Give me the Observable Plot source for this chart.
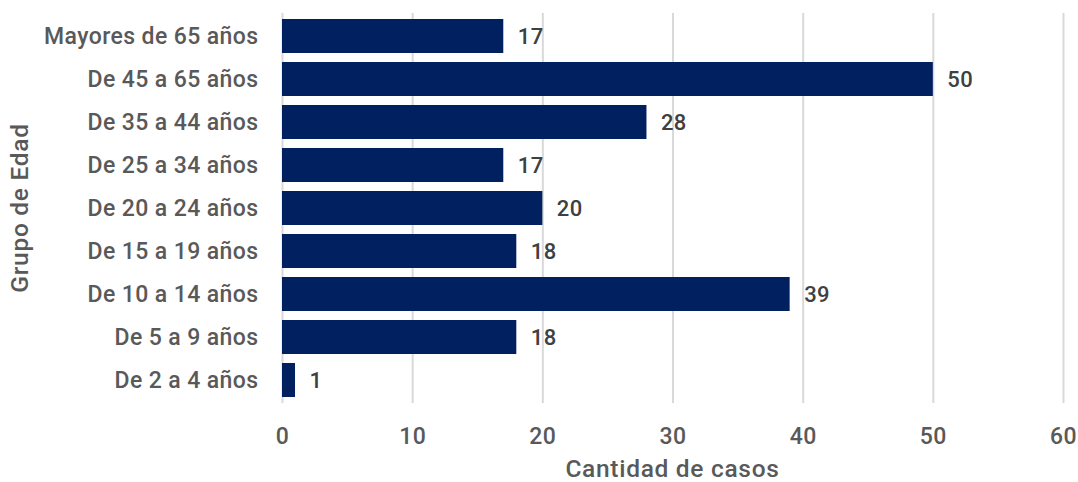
<!DOCTYPE html>
<html>
<head>
<meta charset="utf-8">
<script src="https://cdn.jsdelivr.net/npm/d3@7"></script>
<script src="https://cdn.jsdelivr.net/npm/@observablehq/plot@0.6"></script>
<style>
  html, body { margin: 0; padding: 0; background: #fff; }
  #chart svg { display: block; }
</style>
</head>
<body>
<div id="chart"></div>
<script>
const categories = [
  "Mayores de 65 años",
  "De 45 a 65 años",
  "De 35 a 44 años",
  "De 25 a 34 años",
  "De 20 a 24 años",
  "De 15 a 19 años",
  "De 10 a 14 años",
  "De 5 a 9 años",
  "De 2 a 4 años"
];
const values = [17, 50, 28, 17, 20, 18, 39, 18, 1];
const xTicks = [0, 10, 20, 30, 40, 50, 60];

const data = categories.map((c, i) => ({ group: c, value: values[i] }));
const FONT = "Roboto, 'DejaVu Sans Condensed', sans-serif";

const plot = Plot.plot({
  width: 1078,
  height: 482,
  marginLeft: 282,
  marginRight: 15,
  marginTop: 13,
  marginBottom: 79,
  style: { fontFamily: FONT, background: "#fff", letterSpacing: "0.4px" },
  x: { domain: [0, 60], ticks: xTicks, label: null },
  y: { domain: categories, paddingInner: 0.2, paddingOuter: 0.1, label: null },
  marks: [
    Plot.gridX(xTicks, { stroke: "#d9d9d9", strokeOpacity: 1, strokeWidth: 2 }),
    Plot.barX(data, { x: "value", y: "group", fill: "#002060" }),
    Plot.text(data, {
      x: "value", y: "group", text: d => String(d.value),
      dx: 14, textAnchor: "start", fill: "#404040",
      fontSize: 22, fontWeight: 500
    }),
    Plot.axisX(xTicks, {
      tickSize: 0, tickPadding: 24, fontSize: 23, fill: "#595959",
      fontWeight: 500, label: null, tickFormat: d => String(d)
    }),
    Plot.axisY({
      tickSize: 0, tickPadding: 24, fontSize: 23, fill: "#595959",
      fontWeight: 500, label: null
    })
  ]
});

// axis titles
const svg = d3.select(plot);
svg.append("text")
  .attr("x", (282 + 1063) / 2).attr("y", 471)
  .attr("text-anchor", "middle")
  .attr("dominant-baseline", "middle")
  .attr("font-family", FONT).attr("font-size", 24.5).attr("font-weight", 500)
  .attr("letter-spacing", "0.7px")
  .attr("fill", "#595959")
  .text("Cantidad de casos");
svg.append("text")
  .attr("transform", `translate(22, ${(13 + 403) / 2}) rotate(-90)`)
  .attr("text-anchor", "middle")
  .attr("dominant-baseline", "middle")
  .attr("font-family", FONT).attr("font-size", 24.5).attr("font-weight", 500)
  .attr("letter-spacing", "0.7px")
  .attr("fill", "#595959")
  .text("Grupo de Edad");

document.getElementById("chart").appendChild(plot);
</script>
</body>
</html>
